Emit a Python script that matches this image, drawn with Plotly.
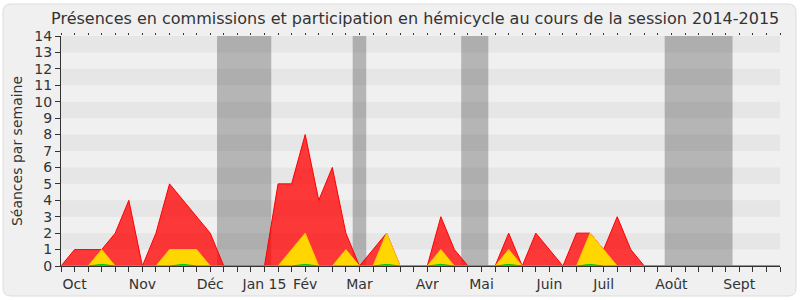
import plotly.graph_objects as go

weeks = list(range(54))
presences_commission = [0, 1, 1, 1, 2, 4, 0, 2, 5, 4, 3, 2, 0, 0, 0, 0, 5, 5, 8, 4,
                        6, 2, 0, 1, 2, 0, 0, 0, 3, 1, 0, 0, 0, 2, 0, 2, 1, 0, 2, 2,
                        1, 3, 1, 0, 0, 0, 0, 0, 0, 0, 0, 0, 0, 0]
interventions_commission = [0, 0, 0, 1, 0, 0, 0, 0, 1, 1, 1, 0, 0, 0, 0, 0, 0, 1, 2, 0,
                            0, 1, 0, 0, 2, 0, 0, 0, 1, 0, 0, 0, 0, 1, 0, 0, 0, 0, 0, 2,
                            1, 0, 0, 0, 0, 0, 0, 0, 0, 0, 0, 0, 0, 0]
hemicycle = [0, 0, 0, 0.1, 0, 0, 0, 0, 0, 0.1, 0, 0, 0, 0, 0, 0, 0, 0, 0.1, 0,
             0, 0, 0, 0, 0.1, 0, 0, 0, 0.1, 0, 0, 0, 0, 0.1, 0, 0, 0, 0, 0, 0.1,
             0, 0, 0, 0, 0, 0, 0, 0, 0, 0, 0, 0, 0, 0]

month_ticks = [1, 6, 11, 15, 18, 22, 27, 31, 36, 40, 45, 50]
month_labels = ["Oct", "Nov", "Déc", "Jan 15", "Fév", "Mar", "Avr", "Mai", "Juin", "Juil", "Août", "Sept"]

vacations = [(11.5, 15.5), (21.5, 22.5), (29.5, 31.5), (44.5, 49.5)]

ticktext = []
for w in weeks:
    ticktext.append(month_labels[month_ticks.index(w)] if w in month_ticks else "")

FONT = "DejaVu Sans"
TXT = "#333333"
fig = go.Figure()
fig.add_trace(go.Scatter(x=weeks, y=presences_commission, mode="lines", fill="tozeroy",
                         line=dict(color="rgb(255,0,0)", width=1),
                         fillcolor="rgba(255,0,0,0.77)", hoverinfo="skip"))
fig.add_trace(go.Scatter(x=weeks, y=interventions_commission, mode="lines", fill="tozeroy",
                         line=dict(color="rgb(255,200,0)", width=1),
                         fillcolor="rgb(255,214,0)", hoverinfo="skip"))
fig.add_trace(go.Scatter(x=weeks, y=hemicycle, mode="lines", fill="tozeroy",
                         line=dict(color="rgb(0,200,0)", width=1),
                         fillcolor="rgba(0,200,0,0.8)", hoverinfo="skip"))
# invisible trace for top mirrored dots axis
fig.add_trace(go.Scatter(x=[0, 53], y=[0, 0], xaxis="x2", mode="lines",
                         line=dict(width=0), hoverinfo="skip", showlegend=False))

shapes = []
L, R, T, B = 61, 780, 36, 266
def px(xp):
    return (xp - L) / (R - L)
def py(yp):
    return (B - yp) / (B - T)
x0, x1, y0, y1, r = 3, 796, 4, 296, 8
path = (f"M {px(x0+r)} {py(y0)} L {px(x1-r)} {py(y0)} Q {px(x1)} {py(y0)} {px(x1)} {py(y0+r)} "
        f"L {px(x1)} {py(y1-r)} Q {px(x1)} {py(y1)} {px(x1-r)} {py(y1)} "
        f"L {px(x0+r)} {py(y1)} Q {px(x0)} {py(y1)} {px(x0)} {py(y1-r)} "
        f"L {px(x0)} {py(y0+r)} Q {px(x0)} {py(y0)} {px(x0+r)} {py(y0)} Z")
shapes.append(dict(type="path", xref="paper", yref="paper", path=path, layer="below",
                   fillcolor="#f0f0f0", line=dict(color="#dcdcdc", width=1)))
for k in range(7):
    shapes.append(dict(type="rect", xref="paper", yref="y", x0=0, x1=1, y0=2 * k + 1, y1=2 * k + 2,
                       fillcolor="#e6e6e6", line=dict(width=0), layer="below"))
for a, b in vacations:
    shapes.append(dict(type="rect", xref="x", yref="paper", x0=a, x1=b, y0=0, y1=1,
                       fillcolor="rgba(0,0,0,0.245)", line=dict(width=0), layer="below"))

fig.update_layout(
    width=800, height=300,
    margin=dict(l=L, r=800 - R, t=T, b=300 - B, autoexpand=False),
    paper_bgcolor="white", plot_bgcolor="#fafafa",
    showlegend=False,
    shapes=shapes,
    font=dict(family=FONT, color=TXT),
    title=dict(text="Présences en commissions et participation en hémicycle au cours de la session 2014-2015",
               x=0.519, xanchor="center", y=0.94, yanchor="middle", yref="container",
               font=dict(family=FONT, size=16, color=TXT)),
    xaxis=dict(range=[0, 53], tickvals=weeks, ticktext=ticktext, ticks="outside", ticklen=5,
               tickcolor=TXT, showgrid=False, zeroline=False, showline=True, automargin=False,
               linecolor=TXT, linewidth=1, tickfont=dict(size=14, color=TXT)),
    xaxis2=dict(range=[0, 53], overlaying="x", side="top", tickvals=weeks, ticks="outside",
                ticklen=2, tickcolor=TXT, showticklabels=False, showgrid=False, automargin=False,
                zeroline=False, showline=False),
    yaxis=dict(range=[0, 14], tickvals=list(range(15)), ticks="outside", ticklen=5,
               tickcolor=TXT, showgrid=False, zeroline=False, showline=True, automargin=False,
               linecolor=TXT, linewidth=1, tickfont=dict(size=14, color=TXT),
               title=dict(text="Séances par semaine", font=dict(size=14, color=TXT), standoff=8)),
)

fig.write_html("out.html")
